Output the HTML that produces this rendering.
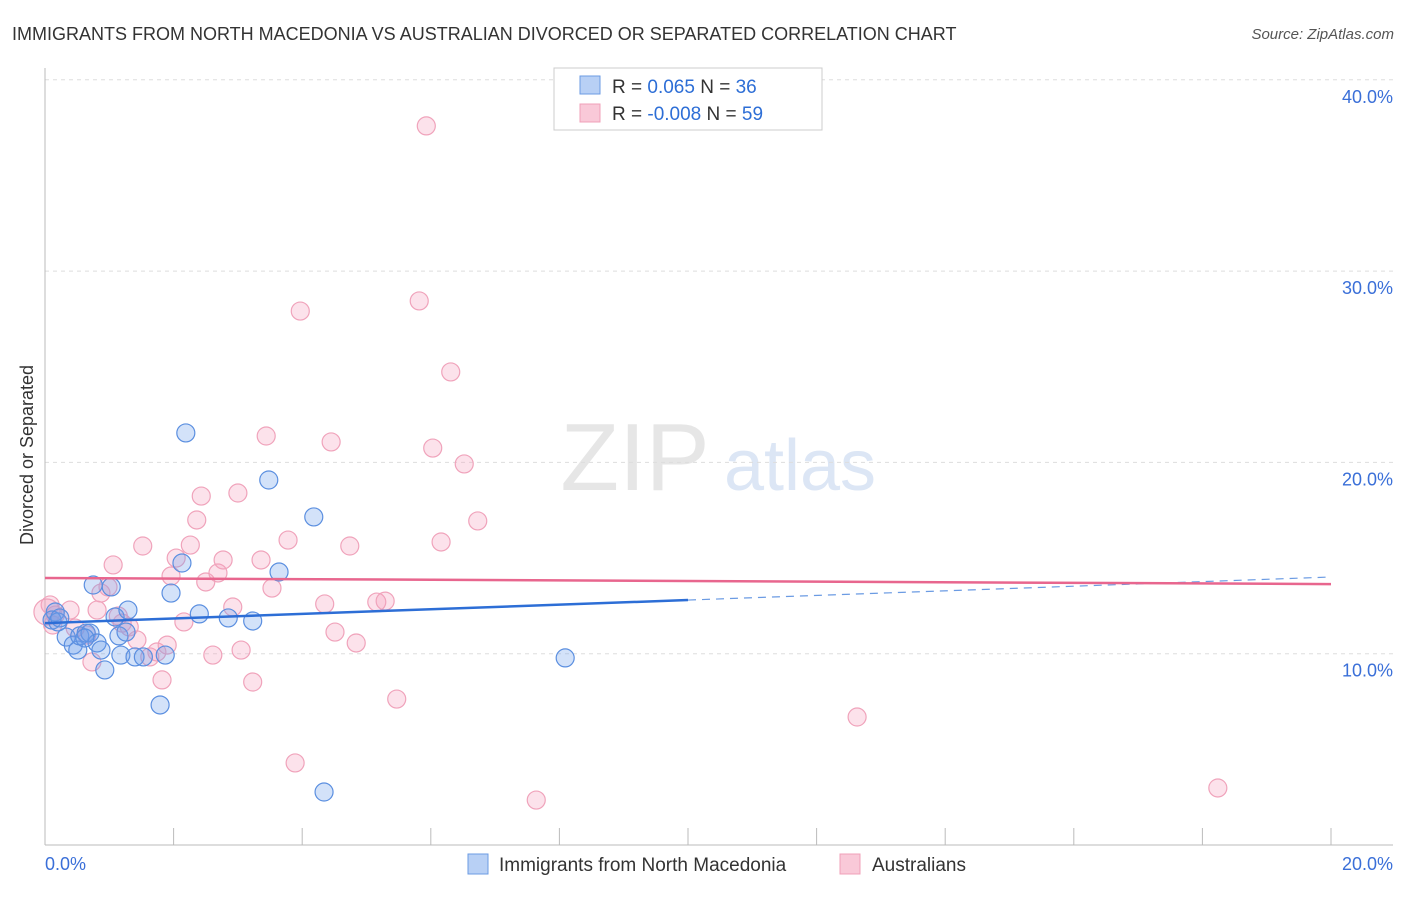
<!DOCTYPE html>
<html><head><meta charset="utf-8"><style>
body{margin:0;background:#fff;font-family:"Liberation Sans",sans-serif}
svg text{font-family:"Liberation Sans",sans-serif}
</style></head><body>
<svg id="c" width="1406" height="892">
<text x="12" y="40" font-size="18" fill="#333">IMMIGRANTS FROM NORTH MACEDONIA VS AUSTRALIAN DIVORCED OR SEPARATED CORRELATION CHART</text>
<text x="1394" y="39" font-size="15" fill="#555" text-anchor="end" font-style="italic">Source: ZipAtlas.com</text>
<text x="635" y="490" font-size="96" fill="#e6e6e6" font-family="Liberation Serif" text-anchor="middle">ZIP</text>
<text x="800" y="490" font-size="72" fill="#dce6f5" text-anchor="middle">atlas</text>
<text transform="translate(33,455) rotate(-90)" font-size="18" fill="#333" text-anchor="middle">Divorced or Separated</text>
<g id="grid"></g><g id="axes"></g><g id="pts"></g><g id="lines"></g>
<g>
<rect x="554" y="68" width="268" height="62" fill="#fff" stroke="#ccc"/>
<rect x="580" y="76" width="20" height="18" fill="#b8d0f5" stroke="#6b9be3"/>
<text x="612" y="93" font-size="19" fill="#333">R =  <tspan fill="#2d6ed6">0.065</tspan>   N = <tspan fill="#2d6ed6">36</tspan></text>
<rect x="580" y="104" width="20" height="18" fill="#f9c9d8" stroke="#f0a0b8"/>
<text x="612" y="120" font-size="19" fill="#333">R = <tspan fill="#2d6ed6">-0.008</tspan>   N = <tspan fill="#2d6ed6">59</tspan></text>
</g>
<g>
<rect x="468" y="854" width="20" height="20" fill="#b8d0f5" stroke="#6b9be3"/>
<text x="499" y="871" font-size="19" fill="#333">Immigrants from North Macedonia</text>
<rect x="840" y="854" width="20" height="20" fill="#f9c9d8" stroke="#f0a0b8"/>
<text x="872" y="871" font-size="19" fill="#333">Australians</text>
</g>
</svg>
<script>
const blueX=[0.16,0.11,0.20,0.33,0.44,0.51,0.54,0.64,0.70,0.75,0.81,0.87,0.93,1.03,1.09,1.15,1.18,1.29,1.26,1.40,1.53,1.79,1.87,1.96,2.13,2.19,2.40,2.85,3.23,3.48,3.64,4.18,4.34,8.09,0.23,0.62];
const blueY=[12.18,11.76,11.66,10.87,10.45,10.19,10.93,11.08,11.08,13.59,10.56,10.19,9.15,13.49,11.92,10.93,9.93,12.28,11.13,9.83,9.83,7.32,9.93,13.17,14.74,21.54,12.08,11.87,11.71,19.08,14.27,17.15,2.77,9.78,11.87,10.82];
const pinkX=[0.08,0.12,0.16,0.39,0.47,0.65,0.73,0.81,0.87,0.98,1.06,1.14,1.20,1.31,1.43,1.52,1.63,1.74,1.82,1.90,1.96,2.04,2.16,2.26,2.36,2.43,2.50,2.61,2.69,2.77,2.92,3.00,3.05,3.23,3.36,3.44,3.53,3.78,3.89,3.97,4.35,4.45,4.51,4.74,4.84,5.16,5.29,5.47,5.82,5.93,6.03,6.16,6.31,6.52,6.73,7.64,12.63,18.24,0.03];
const pinkY=[12.55,11.50,12.02,12.28,11.34,10.98,9.57,12.28,13.17,13.49,14.64,11.97,11.60,11.40,10.72,15.63,9.83,10.09,8.63,10.45,14.06,15.00,11.66,15.68,16.99,18.24,13.75,9.93,14.22,14.90,12.44,18.40,10.19,8.52,14.90,21.38,13.43,15.94,4.29,27.91,12.60,21.07,11.13,15.63,10.56,12.70,12.75,7.63,28.44,37.59,20.75,15.84,24.73,19.92,16.94,2.35,6.69,2.98,12.18];
const yTicks=[10,20,30,40];
const yTickLabels=["10.0%","20.0%","30.0%","40.0%"];
const xTickLabels=["0.0%","20.0%"];
const blueFit=[11.60,14.01];
const pinkFit=[13.96,13.64];
const NS="http://www.w3.org/2000/svg";
const sx=v=>45+v*64.3, sy=v=>845-v*19.13;
function mk(t,a,p){const e=document.createElementNS(NS,t);for(const k in a)e.setAttribute(k,a[k]);document.getElementById(p).appendChild(e);return e;}
yTicks.forEach((t,i)=>{
 const g=mk('line',{x1:45,x2:1393,y1:sy(t),y2:sy(t),stroke:'#ddd','stroke-dasharray':'4,4'},'grid');
 
 
 const l=mk('text',{x:1393,y:sy(t)+23,'font-size':18,fill:'#3a6fd8','text-anchor':'end'},'axes');l.textContent=yTickLabels[i];
 
 
});
mk('line',{x1:45,x2:45,y1:68,y2:845,stroke:'#bbb'},'axes');
mk('line',{x1:45,x2:1393,y1:845,y2:845,stroke:'#bbb'},'axes');
for(let i=1;i<=10;i++){const t=mk('line',{x1:sx(i*2),x2:sx(i*2),y1:828,y2:845,stroke:'#bbb'},'axes');
 
 }
let xl=mk('text',{x:45,y:870,'font-size':18,fill:'#3a6fd8'},'axes');xl.textContent=xTickLabels[0];


xl=mk('text',{x:1393,y:870,'font-size':18,fill:'#3a6fd8','text-anchor':'end'},'axes');xl.textContent=xTickLabels[1];


pinkX.forEach((x,i)=>{const c=mk('circle',{cx:sx(x),cy:sy(pinkY[i]),r:i==58?13:9,fill:'rgba(244,160,188,0.3)',stroke:'#f0a3bb','stroke-width':1.2},'pts');
 
 });
blueX.forEach((x,i)=>{const c=mk('circle',{cx:sx(x),cy:sy(blueY[i]),r:9,fill:'rgba(110,160,235,0.3)',stroke:'#5b8fe0','stroke-width':1.2},'pts');
 
 });
const bl=v=>blueFit[0]+(blueFit[1]-blueFit[0])*v/20;
let ln=mk('line',{x1:sx(0),y1:sy(bl(0)),x2:sx(10),y2:sy(bl(10)),stroke:'#2d6ed6','stroke-width':2.5},'lines');


ln=mk('line',{x1:sx(10),y1:sy(bl(10)),x2:sx(20),y2:sy(bl(20)),stroke:'#6b9be3','stroke-width':1.2,'stroke-dasharray':'8,6'},'lines');


ln=mk('line',{x1:sx(0),y1:sy(pinkFit[0]),x2:sx(20),y2:sy(pinkFit[1]),stroke:'#e8668e','stroke-width':2.5},'lines');


</script>
</body></html>
